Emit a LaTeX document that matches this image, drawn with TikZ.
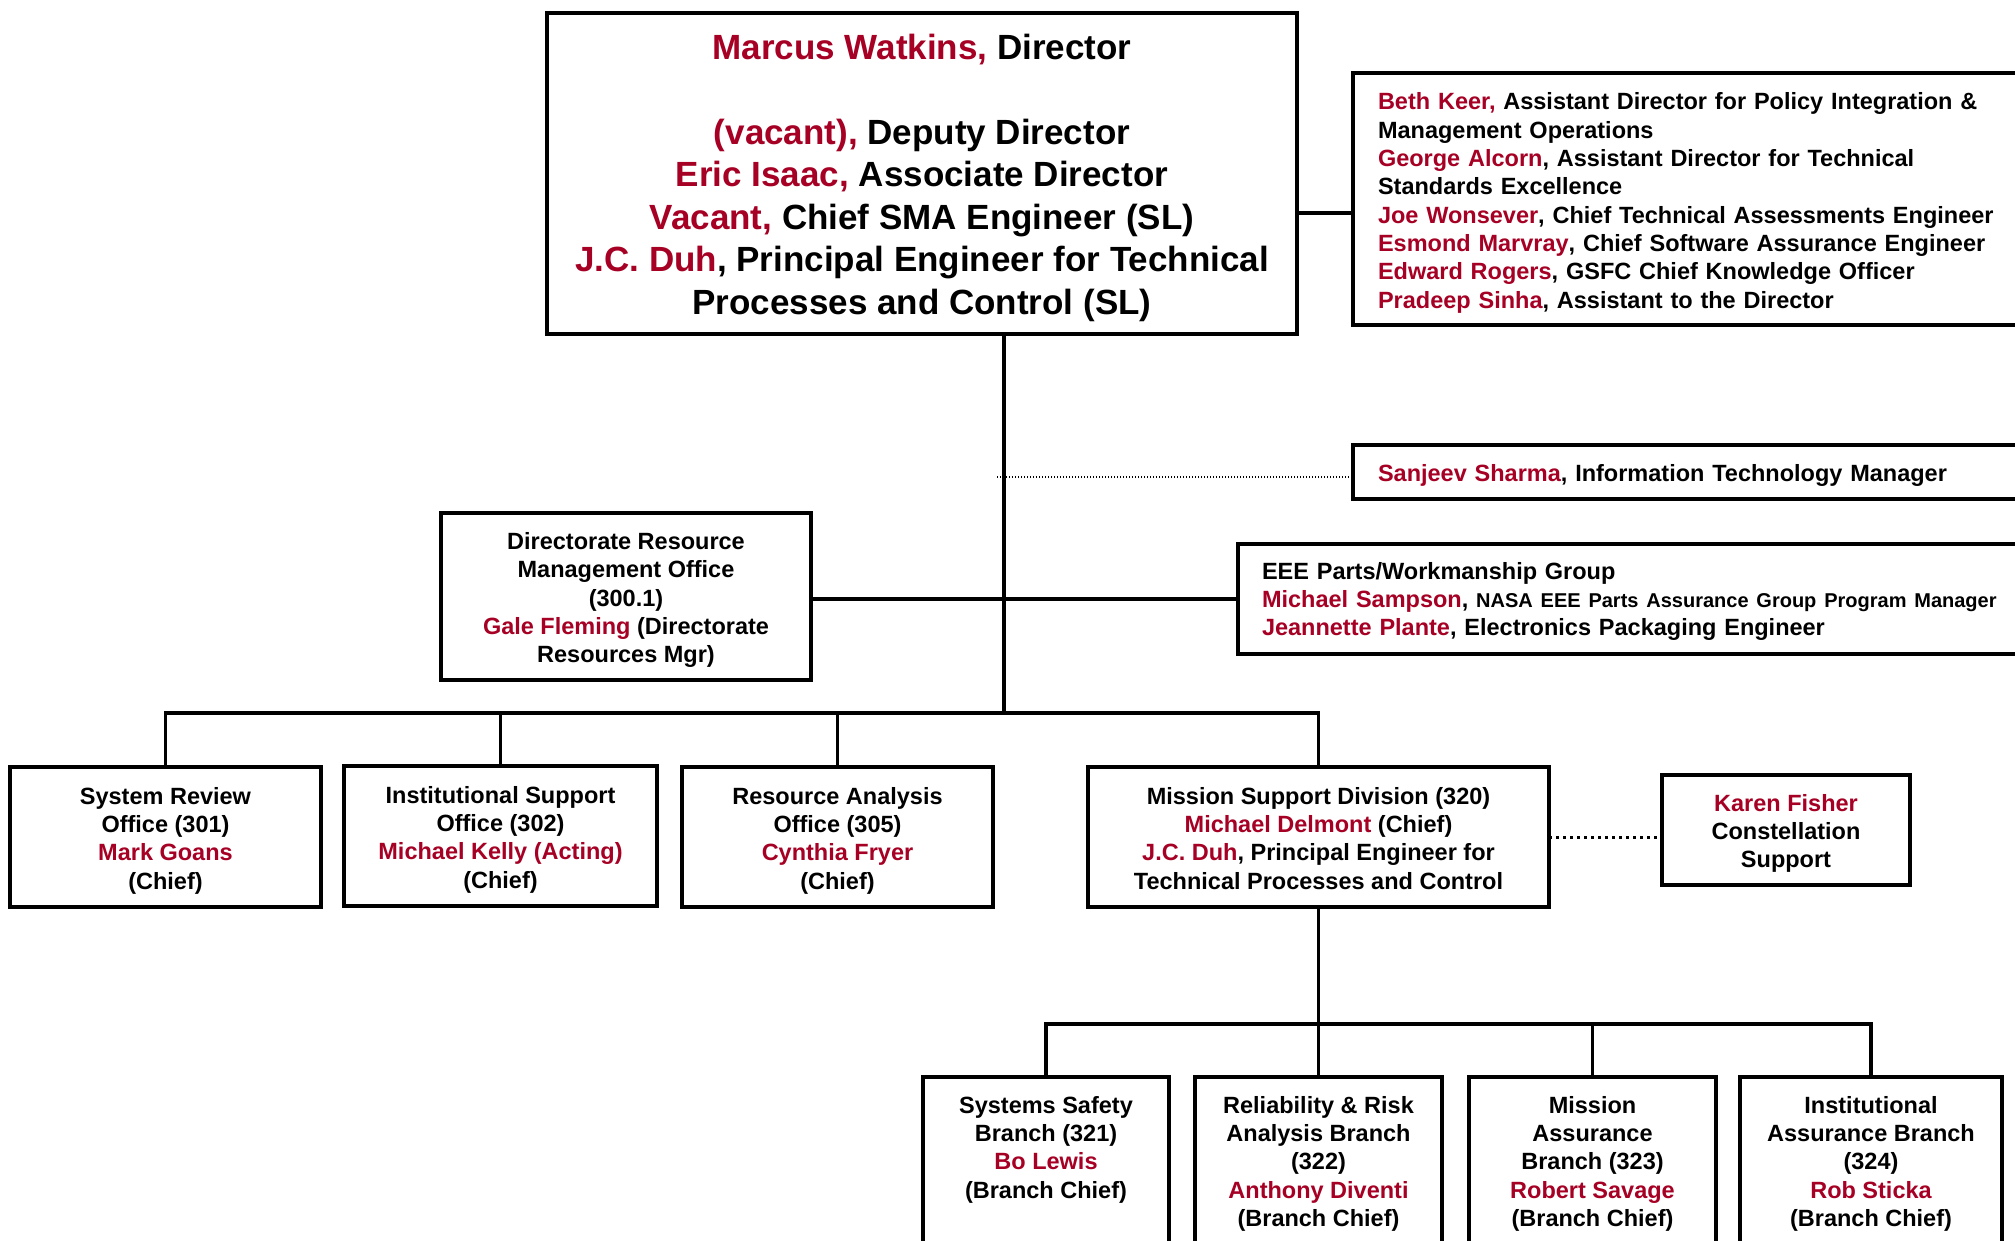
\documentclass[tikz,border=0pt]{standalone}
\usepackage{fontspec}
\setmainfont{Liberation Sans}
\definecolor{rd}{RGB}{166,0,36}
\newcommand{\nm}[1]{\textcolor{rd}{#1}}
\newcommand{\btext}[3]{\raisebox{-#1}[\height][\depth]{\begin{tabular}{@{}#2@{}}#3\end{tabular}}}
\begin{document}
\begin{tikzpicture}[x=1pt,y=-1pt,
  box/.style={draw, line width=4pt, fill=white, inner sep=0pt, outer sep=0pt,
    font=\bfseries\fontsize{23.5}{28.3}\selectfont},
  lbox/.style={box, anchor=west, align=left, inner xsep=25},
  txt/.style={inner sep=0pt, font=\bfseries\fontsize{23.5}{28.3}\selectfont, align=center, anchor=north},
  conn/.style={line width=3.5pt},
  finedots/.style={line width=1.3pt, dash pattern=on 1.3pt off 1.7pt},
  bigdots/.style={line width=3pt, dash pattern=on 3pt off 4pt}]
\useasboundingbox (0,0) rectangle (2015,1241);
\clip (0,0) rectangle (2015,1241);

% director
\node[box, font=\bfseries\fontsize{35}{42.4}\selectfont, minimum width=750, minimum height=321] (dir) at (922,173.5)
  {\btext{5pt}{c}{\nm{Marcus Watkins,} Director\\[42.4pt]
   \nm{(vacant),} Deputy Director\\
   \nm{Eric Isaac,} Associate Director\\
   \nm{Vacant,} Chief SMA Engineer (SL)\\
   \nm{J.C. Duh}, Principal Engineer for Technical\\
   Processes and Control (SL)}};

% assistants
\node[lbox, text width=627, minimum height=252] (asst) at (1353,199)
  {\btext{4.3pt}{l}{\nm{Beth Keer,} Assistant Director for Policy Integration \&\\
   Management Operations\\
   \nm{George Alcorn}, Assistant Director for Technical\\
   Standards Excellence\\
   \nm{Joe Wonsever}, Chief Technical Assessments Engineer\\
   \nm{Esmond Marvray}, Chief Software Assurance Engineer\\
   \nm{Edward Rogers}, GSFC Chief Knowledge Officer\\
   \nm{Pradeep Sinha}, Assistant to the Director}};

% IT manager
\node[lbox, text width=650, minimum height=54] (it) at (1353,472)
  {\btext{4pt}{l}{\nm{Sanjeev Sharma}, Information Technology Manager}};

% DRMO
\node[box, minimum width=370, minimum height=167] (drmo) at (626,596.5)
  {\btext{4pt}{c}{Directorate Resource\\Management Office\\(300.1)\\\nm{Gale Fleming} (Directorate\\Resources Mgr)}};

% EEE
\node[lbox, text width=770, inner xsep=24, minimum height=110] (eee) at (1238,599)
  {\btext{3pt}{l}{EEE Parts/Workmanship Group\\
   \nm{Michael Sampson}, {\fontsize{20}{28.3}\selectfont NASA EEE Parts Assurance Group Program Manager}\\
   \nm{Jeannette Plante}, Electronics Packaging Engineer}};

% offices
\node[box, minimum width=311, minimum height=140] (sro) at (165.5,837)
  {\btext{4pt}{c}{System Review\\Office (301)\\\nm{Mark Goans}\\(Chief)}};
\node[box, minimum width=313, minimum height=140] (isu) at (500.5,836)
  {\btext{4pt}{c}{Institutional Support\\Office (302)\\\nm{Michael Kelly (Acting)}\\(Chief)}};
\node[box, minimum width=311, minimum height=140] (rao) at (837.5,837)
  {\btext{4pt}{c}{Resource Analysis\\Office (305)\\\nm{Cynthia Fryer}\\(Chief)}};
\node[box, minimum width=461, minimum height=140] (msd) at (1318.5,837)
  {\btext{4pt}{c}{Mission Support Division (320)\\\nm{Michael Delmont} (Chief)\\\nm{J.C. Duh}, Principal Engineer for\\Technical Processes and Control}};
\node[box, minimum width=248, minimum height=110] (kf) at (1786,830)
  {\btext{4pt}{c}{\nm{Karen Fisher}\\Constellation\\Support}};

% branches
\node[box, anchor=north, minimum width=246, minimum height=220] (ss) at (1046,1077) {};
\node[box, anchor=north, minimum width=247, minimum height=220] (rr) at (1318.5,1077) {};
\node[box, anchor=north, minimum width=247, minimum height=220] (ma) at (1592.5,1077) {};
\node[box, anchor=north, minimum width=262, minimum height=220] (ia) at (1871,1077) {};
\node[txt] (sst) at (1046,1096) {Systems Safety\\Branch (321)\\\nm{Bo Lewis}\\(Branch Chief)};
\node[txt] (rrt) at (1318.5,1096) {Reliability \& Risk\\Analysis Branch\\(322)\\\nm{Anthony Diventi}\\(Branch Chief)};
\node[txt] (mat) at (1592.5,1096) {Mission\\Assurance\\Branch (323)\\\nm{Robert Savage}\\(Branch Chief)};
\node[txt] (iat) at (1871,1096) {Institutional\\Assurance Branch\\(324)\\\nm{Rob Sticka}\\(Branch Chief)};

% connectors
\coordinate (trunk) at (1004,713);
\coordinate (ya) at (0,213);
\coordinate (yb) at (0,599);
\coordinate (itend) at (997,477);
\coordinate (bus2) at (1318.5,1024);
\draw[conn] (dir.south -| trunk) -- (trunk);
\draw[conn] (dir.east |- ya) -- (asst.west |- ya);
\draw[finedots] (itend) -- (it.west |- itend);
\draw[conn] (drmo.east |- yb) -- (eee.west |- yb);
\draw[conn] (sro.north) -- (sro.north |- trunk) -- (msd.north |- trunk) -- (msd.north);
\draw[conn] (isu.north) -- (isu.north |- trunk);
\draw[conn] (rao.north) -- (rao.north |- trunk);
\draw[bigdots] (msd.east) -- (kf.west |- msd.east);
\draw[conn] (msd.south) -- (bus2);
\draw[conn] (ss.north) -- (ss.north |- bus2) -- (ia.north |- bus2) -- (ia.north);
\draw[conn] (rr.north) -- (rr.north |- bus2);
\draw[conn] (ma.north) -- (ma.north |- bus2);
\end{tikzpicture}
\end{document}
